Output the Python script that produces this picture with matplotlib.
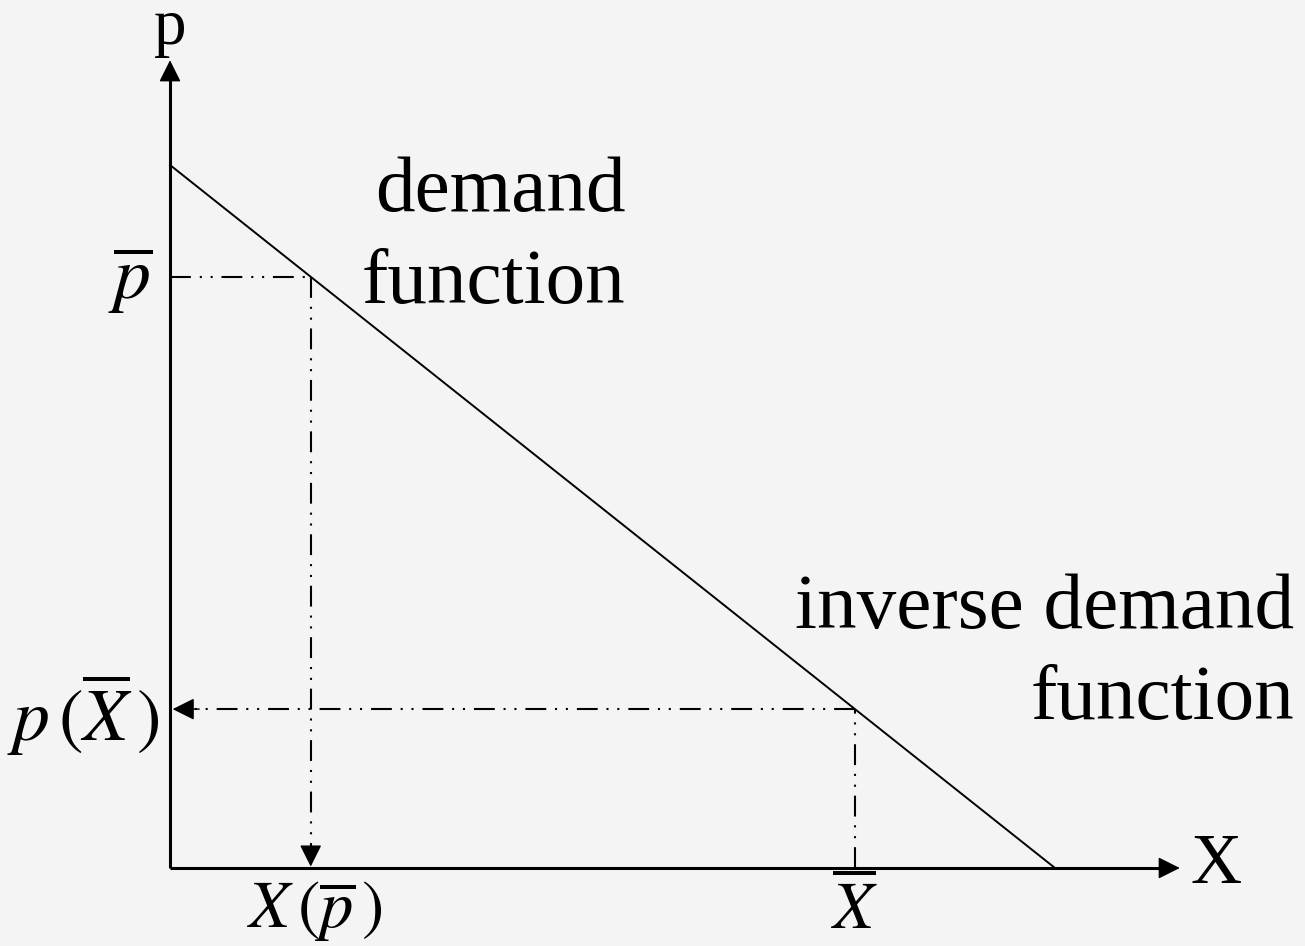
import numpy as np
import matplotlib.pyplot as plt

plt.rcParams['font.family'] = ['Liberation Serif', 'DejaVu Serif']
plt.rcParams['mathtext.fontset'] = 'stix'

# demand curve: p = p_max - (p_max / x_max) * X
p_max = 10.0
x_max = 10.0
p_bar = 8.41          # given price
X_bar = 7.74          # given quantity
axis_len = [11.41, 11.49]   # x-axis, p-axis arrow tips

bg = '#f4f4f4'
fig = plt.figure(figsize=(13.05, 9.46), dpi=100, facecolor=bg)
ax = fig.add_axes([0, 0, 1, 1], facecolor=bg)
ax.set_xlim(-170 / 88.5, (1305 - 170) / 88.5)
ax.set_ylim(-(946 - 868) / 70.3, 868 / 70.3)
ax.axis('off')


def demand(x):
    return p_max - p_max / x_max * x


def inv_demand(p):
    return (p_max - p) * x_max / p_max


ddot = (0, (10, 4.3, 1, 4.2, 1, 4.2))
lw_d = 1.5


def head(tip, direction, ms=34):
    tip = np.array(tip, dtype=float)
    back = tip - np.array(direction) * 0.3
    ax.annotate('', xy=tip, xytext=back,
                arrowprops=dict(arrowstyle='-|>', mutation_scale=ms, color='k',
                                lw=1.0, shrinkA=0, shrinkB=0))


# axes
ax.plot([0, axis_len[0] - 0.1], [0, 0], color='k', lw=2.2, solid_capstyle='butt')
ax.plot([0, 0], [0, axis_len[1] - 0.1], color='k', lw=2.2, solid_capstyle='butt')
head((axis_len[0], 0), (1, 0), ms=34)
head((0, axis_len[1]), (0, 1), ms=34)

# demand line
xs = np.array([0, x_max])
ax.plot(xs, demand(xs), color='k', lw=1.4)

# p_bar -> X(p_bar)
x_pb = inv_demand(p_bar)
ax.plot([0, x_pb], [p_bar, p_bar], color='k', lw=lw_d, linestyle=ddot)
ax.plot([x_pb, x_pb], [p_bar, 0.2], color='k', lw=lw_d, linestyle=ddot)
head((x_pb, 0.02), (0, -1))

# X_bar -> p(X_bar)
p_xb = demand(X_bar)
ax.plot([X_bar, X_bar], [0, p_xb], color='k', lw=lw_d, linestyle=ddot)
ax.plot([X_bar, 0.2], [p_xb, p_xb], color='k', lw=lw_d, linestyle=ddot)
head((0.03, p_xb), (-1, 0))

# labels
ax.text(0, axis_len[1] + 0.03, 'p', fontsize=47, ha='center', va='bottom')
ax.text(axis_len[0] + 0.12, 0.04, 'X', fontsize=51, ha='left', va='center')
ax.text(-0.2, p_bar - 0.05, r'$\overline{p}$', fontsize=53, ha='right', va='center')
ax.text(-0.12, p_xb - 0.08, r'$p\,(\overline{X}\,)$', fontsize=53, ha='right', va='center')
ax.text(x_pb + 0.05, -1.06, r'$X\,(\overline{p}\,)$', fontsize=48, ha='center', va='bottom')
ax.text(X_bar, -1.06, r'$\overline{X}$', fontsize=48, ha='center', va='bottom')

ax.text(5.15, 9.35, 'demand', fontsize=57, ha='right', va='baseline')
ax.text(5.15, 8.03, 'function', fontsize=57, ha='right', va='baseline')
ax.text(12.7, 3.42, 'inverse demand', fontsize=57, ha='right', va='baseline')
ax.text(12.7, 2.12, 'function', fontsize=57, ha='right', va='baseline')

fig.savefig('out.png', dpi=100, facecolor=bg)
